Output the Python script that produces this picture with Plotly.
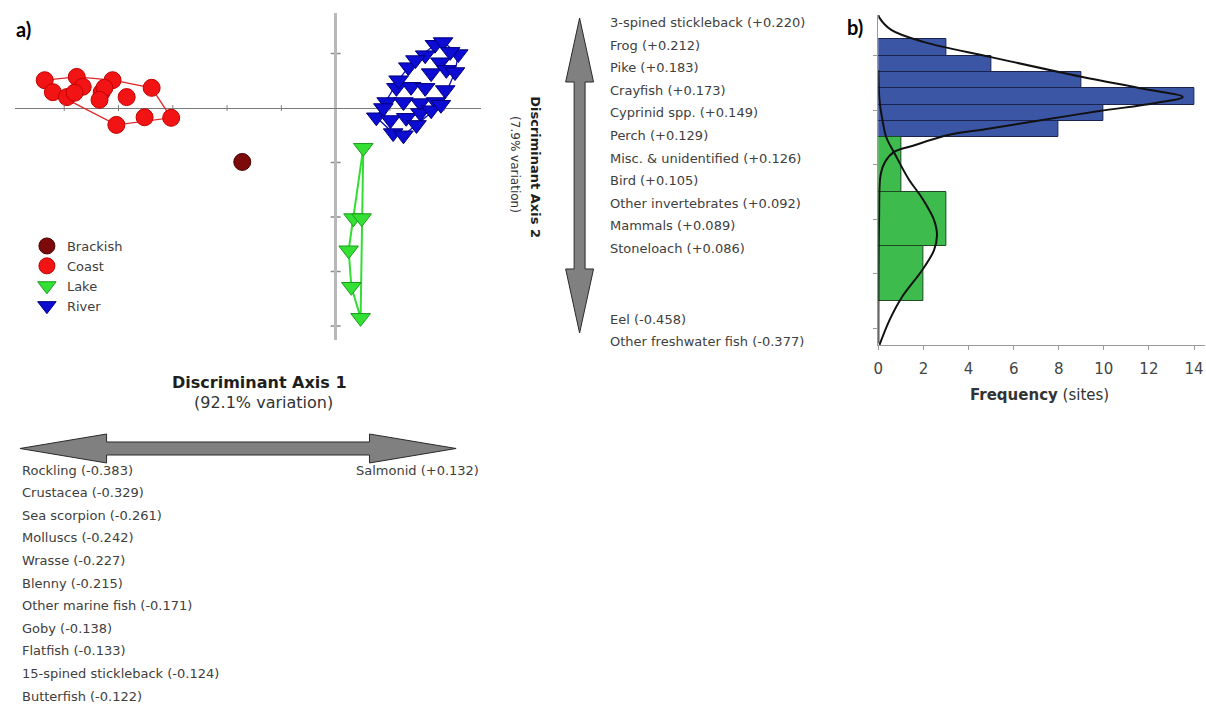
import plotly.graph_objects as go

W, H = 1206, 704

# ---------------- Panel a: discriminant function scores ----------------
coast_x = [-5.36, -4.77, -4.66, -5.21, -4.95, -4.81, -4.31, -4.11, -4.26, -4.35, -3.85, -3.39, -4.04, -3.52, -3.03]
coast_y = [0.51, 0.57, 0.39, 0.29, 0.20, 0.28, 0.29, 0.51, 0.37, 0.15, 0.20, 0.37, -0.31, -0.17, -0.18]

brackish_x = [-1.72]
brackish_y = [-0.99]

lake_x = [0.51, 0.33, 0.48, 0.24, 0.29, 0.46]
lake_y = [-0.73, -2.02, -2.02, -2.61, -3.28, -3.85]

river_x = [1.83, 1.98, 2.26, 2.11, 1.65, 1.93, 1.34, 1.76, 2.04, 1.12, 1.39, 1.65, 2.02, 0.94, 1.25,
           1.56, 1.85, 0.75, 1.01, 1.30, 1.56, 1.06, 1.25, 1.76, 1.49, 1.94, 2.20, 1.16, 1.47, 0.88]
river_y = [1.16, 1.21, 0.99, 1.03, 0.97, 0.84, 0.75, 0.64, 0.70, 0.37, 0.39, 0.37, 0.33, 0.11, 0.11,
           0.09, 0.11, -0.17, -0.22, -0.18, -0.09, -0.46, -0.50, -0.04, -0.31, 0.06, 0.66, 0.51, 0.88, 0.00]

axis_x_ticks = [-5, -4, -3, -2, -1, 1, 2]
axis_y_ticks = [1, -1, -2, -3, -4]

# Variable loadings on the two discriminant axes
axis1_neg_names = ["Rockling", "Crustacea", "Sea scorpion", "Molluscs", "Wrasse", "Blenny",
                   "Other marine fish", "Goby", "Flatfish", "15-spined stickleback", "Butterfish"]
axis1_neg_vals = [-0.383, -0.329, -0.261, -0.242, -0.227, -0.215, -0.171, -0.138, -0.133, -0.124, -0.122]
axis1_pos_names = ["Salmonid"]
axis1_pos_vals = [0.132]

axis2_pos_names = ["3-spined stickleback", "Frog", "Pike", "Crayfish", "Cyprinid spp.", "Perch",
                   "Misc. & unidentified", "Bird", "Other invertebrates", "Mammals", "Stoneloach"]
axis2_pos_vals = [0.220, 0.212, 0.183, 0.173, 0.149, 0.129, 0.126, 0.105, 0.092, 0.089, 0.086]
axis2_neg_names = ["Eel", "Other freshwater fish"]
axis2_neg_vals = [-0.458, -0.377]

# ---------------- Panel b: frequency of axis-2 scores ----------------
river_bin_edges = [1.3, 1.0, 0.7, 0.4, 0.1, -0.2, -0.5]
river_counts = [3, 5, 9, 14, 10, 8]
lake_bin_edges = [-0.5, -1.5, -2.5, -3.5]
lake_counts = [1, 3, 2]

river_curve_y = [1.743, 1.69, 1.47, 1.25, 0.97, 0.61, 0.40, 0.24, 0.13, -0.02, -0.20, -0.35, -0.46,
                 -0.66, -0.77, -0.95, -1.19, -2.02, -4.28]
river_curve_f = [0.0, 0.05, 0.57, 2.0, 5.0, 9.0, 11.6, 13.5, 12.3, 9.8, 7.0, 4.8, 3.1,
                 1.5, 0.7, 0.3, 0.1, 0.03, 0.0]
lake_curve_y = [0.73, 0.18, -0.18, -0.50, -0.79, -1.28, -1.56, -1.74, -2.02, -2.29, -2.57, -2.94,
                -3.43, -3.85, -4.31]
lake_curve_f = [0.0, 0.05, 0.18, 0.35, 0.71, 1.36, 1.85, 2.12, 2.47, 2.6, 2.47, 1.94,
                1.05, 0.5, 0.05]
freq_ticks = [0, 2, 4, 6, 8, 10, 12, 14]
score_ticks = [1, 0, -1, -2, -3, -4]

# ---------------- helpers ----------------
def px(x):
    return x / W


def py(y):
    return 1 - y / H


def convex_hull(xs, ys):
    pts = sorted(set(zip(xs, ys)))
    if len(pts) < 3:
        return pts

    def cross(o, a, b):
        return (a[0] - o[0]) * (b[1] - o[1]) - (a[1] - o[1]) * (b[0] - o[0])

    lower, upper = [], []
    for p in pts:
        while len(lower) >= 2 and cross(lower[-2], lower[-1], p) <= 0:
            lower.pop()
        lower.append(p)
    for p in reversed(pts):
        while len(upper) >= 2 and cross(upper[-2], upper[-1], p) <= 0:
            upper.pop()
        upper.append(p)
    ring = lower[:-1] + upper[:-1]
    ring.append(ring[0])
    return ring


TXT = "DejaVu Sans"
fig = go.Figure()

# hull outlines
for xs, ys, col, lw in [(coast_x, coast_y, "#e02828", 1.3),
                        (lake_x, lake_y, "#33dd33", 2),
                        (river_x, river_y, "#1010c0", 1.3)]:
    ring = convex_hull(xs, ys)
    fig.add_trace(go.Scatter(x=[p[0] for p in ring], y=[p[1] for p in ring], mode="lines",
                             line=dict(color=col, width=lw), showlegend=False, hoverinfo="skip"))

groups = [
    ("Brackish", brackish_x, brackish_y, "circle", 17, "#7c0a0a", "#4a0000"),
    ("Coast", coast_x, coast_y, "circle", 17, "#f21414", "#c00000"),
    ("Lake", lake_x, lake_y, "triangle-down", 17, "#33e033", "#1c9a1c"),
    ("River", river_x, river_y, "triangle-down", 17, "#0c0cd2", "#00007a"),
]
for name, xs, ys, sym, sz, fill, edge in groups:
    fig.add_trace(go.Scatter(x=xs, y=ys, mode="markers", name=name, cliponaxis=False,
                             marker=dict(symbol=sym, size=sz, color=fill,
                                         line=dict(color=edge, width=1))))

# histogram bars
def bins(edges):
    centers = [(edges[i] + edges[i + 1]) / 2 for i in range(len(edges) - 1)]
    widths = [abs(edges[i] - edges[i + 1]) for i in range(len(edges) - 1)]
    return centers, widths


rc, rw = bins(river_bin_edges)
lc, lw_ = bins(lake_bin_edges)
fig.add_trace(go.Bar(orientation="h", x=river_counts, y=rc, width=rw, base=0,
                     marker=dict(color="#3c56a6", line=dict(color="#1a2350", width=1)),
                     xaxis="x2", yaxis="y2", showlegend=False))
fig.add_trace(go.Bar(orientation="h", x=lake_counts, y=lc, width=lw_, base=0,
                     marker=dict(color="#3dbb4c", line=dict(color="#1d4a22", width=1)),
                     xaxis="x2", yaxis="y2", showlegend=False))
for cf, cy in [(river_curve_f, river_curve_y), (lake_curve_f, lake_curve_y)]:
    fig.add_trace(go.Scatter(x=cf, y=cy, mode="lines", line=dict(color="#111111", width=2, shape="spline"),
                             xaxis="x2", yaxis="y2", showlegend=False, cliponaxis=False))

# ---------------- axes ----------------
UNIT = 54.5  # pixels per score unit
ox, oy = 332, 108  # origin of the score plot
x_lo, x_hi = 10, 478
y_top, y_bot = 13, 340

fig.update_layout(
    xaxis=dict(domain=[px(x_lo), px(x_hi)], range=[(x_lo - ox) / UNIT, (x_hi - ox) / UNIT],
               showgrid=False, showticklabels=False, ticks="", showline=False,
               zeroline=True, zerolinecolor="#b8b8b8", zerolinewidth=2.5, fixedrange=True),
    yaxis=dict(domain=[py(y_bot), py(y_top)], range=[(oy - y_bot) / UNIT, (oy - y_top) / UNIT],
               showgrid=False, showticklabels=False, ticks="", showline=False,
               zeroline=True, zerolinecolor="#7a7a7a", zerolinewidth=1, fixedrange=True),
)

hx0, hx1, hy0, hy1 = 877, 1205, 15, 345
FUNIT = 22.64
hoy = 110
fig.update_layout(
    xaxis2=dict(domain=[px(hx0), px(hx1)], range=[0, (hx1 - hx0) / FUNIT], anchor="y2",
                showgrid=False, zeroline=False, showline=True, linecolor="#9a9a9a", linewidth=1,
                ticks="outside", ticklen=4, tickcolor="#9a9a9a", tickvals=freq_ticks,
                ticklabelstandoff=6,
                tickfont=dict(family=TXT, size=15, color="#444444")),
    yaxis2=dict(domain=[py(hy1), py(hy0)], range=[(hoy - hy1) / UNIT, (hoy - hy0) / UNIT], anchor="x2",
                showgrid=False, zeroline=False, showline=True, linecolor="#9a9a9a", linewidth=1,
                ticks="outside", ticklen=4, tickcolor="#9a9a9a", tickvals=score_ticks,
                showticklabels=False),
)

# ---------------- shapes: axis ticks and loading arrows ----------------
shapes = []
tx = 3 / UNIT
for t in axis_x_ticks:
    shapes.append(dict(type="line", xref="x", yref="y", x0=t, x1=t, y0=-tx, y1=tx,
                       line=dict(color="#808080", width=1), layer="below"))
ty = 5 / UNIT
for t in axis_y_ticks:
    shapes.append(dict(type="line", xref="x", yref="y", x0=-ty, x1=ty, y0=t, y1=t,
                       line=dict(color="#8a8a8a", width=1.5), layer="below"))


def harrow(x0, x1, yc, head, hh, sh):
    p = [(x0, yc), (x0 + head, yc - hh), (x0 + head, yc - sh), (x1 - head, yc - sh), (x1 - head, yc - hh),
         (x1, yc), (x1 - head, yc + hh), (x1 - head, yc + sh), (x0 + head, yc + sh), (x0 + head, yc + hh)]
    return "M " + " L ".join(f"{px(a):.5f},{py(b):.5f}" for a, b in p) + " Z"


def varrow(y0, y1, xc, head, hw, sw):
    p = [(xc, y0), (xc + hw, y0 + head), (xc + sw, y0 + head), (xc + sw, y1 - head), (xc + hw, y1 - head),
         (xc, y1), (xc - hw, y1 - head), (xc - sw, y1 - head), (xc - sw, y0 + head), (xc - hw, y0 + head)]
    return "M " + " L ".join(f"{px(a):.5f},{py(b):.5f}" for a, b in p) + " Z"


arrow_style = dict(type="path", xref="paper", yref="paper", fillcolor="#808080",
                   line=dict(color="#2a2a2a", width=1))
shapes.append(dict(path=harrow(15, 453, 448.5, 87, 14.5, 6.5), **arrow_style))
shapes.append(dict(path=varrow(18, 333, 577, 64, 14, 5.5), **arrow_style))
fig.update_layout(shapes=shapes)

# ---------------- annotations ----------------
ann = []


def label(x, y, text, size=13, color="#404040", anchor="left", family=TXT, angle=0):
    ann.append(dict(x=px(x), y=py(y), xref="paper", yref="paper", text=text, showarrow=False,
                    xanchor=anchor, yanchor="middle", textangle=angle,
                    font=dict(family=family, size=size, color=color)))


def fmt(n, v):
    return f"{n} ({v:+.3f})"


ROW = 22.6
for i, (n, v) in enumerate(zip(axis1_neg_names, axis1_neg_vals)):
    label(15, 470 + i * ROW, fmt(n, v))
for i, (n, v) in enumerate(zip(axis1_pos_names, axis1_pos_vals)):
    label(350, 470 + i * ROW, fmt(n, v))
for i, (n, v) in enumerate(zip(axis2_pos_names, axis2_pos_vals)):
    label(606, 22.5 + i * ROW, fmt(n, v))
for i, (n, v) in enumerate(zip(axis2_neg_names, axis2_neg_vals)):
    label(606, 319 + i * ROW, fmt(n, v))

label(256, 382, "<b>Discriminant Axis 1</b>", size=16, color="#1e1e1e", anchor="center")
label(260, 403, "(92.1% variation)", size=16, color="#333333", anchor="center")
label(532, 167, "<b>Discriminant Axis 2</b>", size=13, color="#1e1e1e", anchor="center", angle=90)
label(512, 165, "(7.9% variation)", size=12, color="#333333", anchor="center", angle=90)

label(1039, 395, "<b>Frequency</b> (sites)", size=15, color="#333333", anchor="center")

label(9, 29, "<b>a)</b>", size=20, color="#000000", family="Lato")
label(843, 27, "<b>b)</b>", size=20, color="#000000", family="Lato")
fig.update_layout(annotations=ann)

fig.update_layout(
    width=W, height=H, margin=dict(l=0, r=0, t=0, b=0),
    paper_bgcolor="white", plot_bgcolor="rgba(0,0,0,0)",
    barmode="overlay", bargap=0,
    showlegend=True,
    legend=dict(x=px(22), y=py(231), xanchor="left", yanchor="top", bgcolor="rgba(0,0,0,0)",
                font=dict(family=TXT, size=13, color="#404040"), itemsizing="trace",
                tracegroupgap=0),
)

fig.write_html("out.html")
